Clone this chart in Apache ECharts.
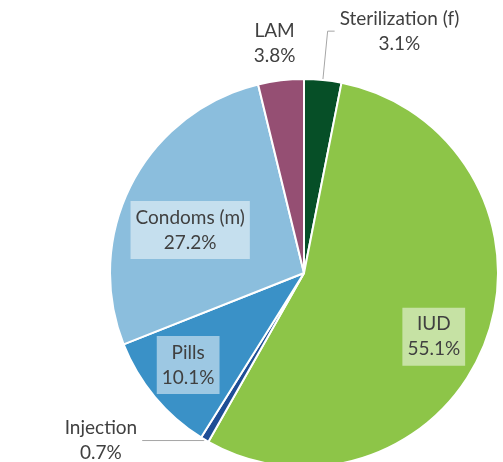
<!DOCTYPE html>
<html lang="en">
<head>
    <meta charset="UTF-8">
    <title>Method mix</title>
    <script src="https://cdn.jsdelivr.net/npm/echarts@6/dist/echarts.min.js"></script>
    <style type="text/css">
        html, body {
            margin: 0;
            padding: 0;
            width: 100%;
            height: 100%;
            background: #fff;
        }
        #pie {
            width: 503px;
            height: 462px;
        }
    </style>
</head>
<body>
<div id="pie"></div>
<script type="text/javascript">
    // data (percent of users)
    var methods = ['Sterilization (f)', 'IUD', 'Injection', 'Pills', 'Condoms (m)', 'LAM'];
    var shares = [3.1, 55.1, 0.7, 10.1, 27.2, 3.8];
    var colors = ['#064f27', '#8dc548', '#1f4e96', '#3a91c7', '#8bbedd', '#954f73'];

    // which labels sit inside the slice (with the pale box)
    var insideLabels = ['IUD', 'Pills', 'Condoms (m)'];
    // nudge from the default inside spot
    var labelShift = {
        'IUD': [36, 29],
        'Pills': [-39, 28],
        'Condoms (m)': [-25, 3]
    };

    function buildData() {
        var list = [];
        for (var i = 0; i < methods.length; i++) {
            var name = methods[i];
            var item = {name: name, value: shares[i], itemStyle: {color: colors[i]}};
            if (insideLabels.indexOf(name) >= 0) {
                item.label = {
                    position: 'inside',
                    backgroundColor: 'rgba(255,255,255,0.5)',
                    padding: [4, 5, 4, 5]
                };
                item.labelLine = {show: false};
            } else if (name == 'LAM') {
                item.labelLine = {show: false, length: 37, length2: -24};
            } else if (name == 'Injection') {
                item.labelLine = {length: 1, length2: 62};
            } else {
                item.labelLine = {length: 49, length2: 7};
            }
            list.push(item);
        }
        return list;
    }

    var myChart = echarts.init(document.getElementById('pie'));
    var option = {
        animation: false,
        series: [
            {
                type: 'pie',
                center: [304, 273],
                radius: 194,
                startAngle: 90,
                clockwise: true,
                avoidLabelOverlap: false,
                data: buildData(),
                itemStyle: {
                    borderColor: '#fff',
                    borderWidth: 2
                },
                label: {
                    show: true,
                    position: 'outside',
                    rotate: 0,
                    distanceToLabelLine: 5,
                    formatter: function (p) {
                        return '{t|' + p.name + '}\n{t|' + p.value.toFixed(1) + '%}';
                    },
                    rich: {
                        t: {
                            fontFamily: 'Lato',
                            fontSize: 19,
                            lineHeight: 25,
                            color: '#404040',
                            align: 'center'
                        }
                    }
                },
                labelLine: {
                    show: true,
                    lineStyle: {
                        color: '#a6a6a6',
                        width: 1
                    }
                },
                labelLayout: function (params) {
                    var s = labelShift[methods[params.dataIndex]];
                    if (s) {
                        return {dx: s[0], dy: s[1]};
                    }
                    return {};
                }
            }
        ]
    };
    myChart.setOption(option);
</script>
</body>
</html>
